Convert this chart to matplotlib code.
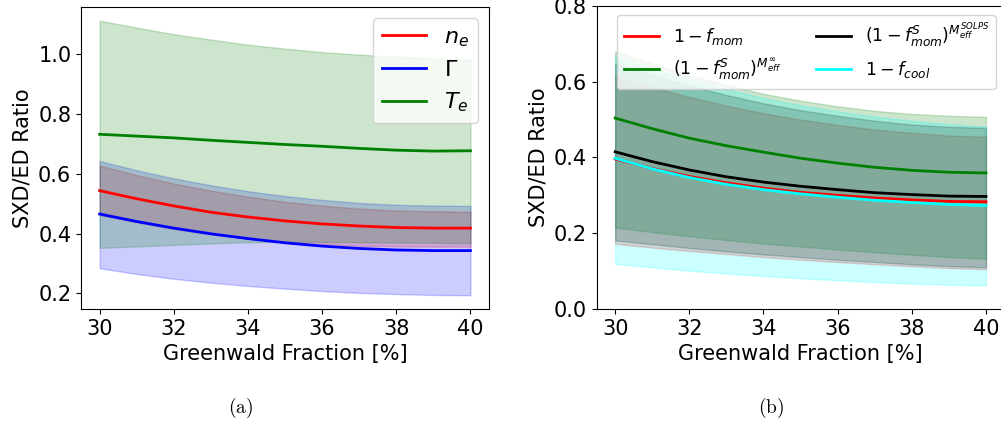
import numpy as np
import matplotlib.pyplot as plt

# Greenwald fraction [%]
fgw = [30, 31, 32, 33, 34, 35, 36, 37, 38, 39, 40]

# (a) SXD/ED ratio from n_e, Gamma, T_e
ne = [0.543, 0.516, 0.492, 0.471, 0.455, 0.442, 0.432, 0.425, 0.420, 0.418, 0.418]
ne_lo = [0.462, 0.437, 0.415, 0.397, 0.383, 0.372, 0.364, 0.359, 0.357, 0.356, 0.356]
ne_hi = [0.627, 0.595, 0.567, 0.543, 0.523, 0.506, 0.493, 0.483, 0.477, 0.474, 0.473]

gam = [0.465, 0.440, 0.418, 0.399, 0.383, 0.369, 0.358, 0.350, 0.345, 0.343, 0.343]
gam_lo = [0.284, 0.265, 0.249, 0.236, 0.225, 0.216, 0.208, 0.202, 0.198, 0.195, 0.194]
gam_hi = [0.642, 0.611, 0.584, 0.561, 0.541, 0.525, 0.512, 0.502, 0.496, 0.493, 0.492]

te = [0.731, 0.725, 0.719, 0.711, 0.704, 0.697, 0.691, 0.684, 0.678, 0.675, 0.676]
te_lo = [0.352, 0.357, 0.362, 0.367, 0.371, 0.372, 0.372, 0.371, 0.370, 0.369, 0.368]
te_hi = [1.110, 1.087, 1.065, 1.047, 1.030, 1.017, 1.005, 0.997, 0.990, 0.984, 0.980]

# (b) momentum / cooling loss estimates
fmom = [0.396, 0.371, 0.350, 0.333, 0.319, 0.308, 0.300, 0.293, 0.288, 0.284, 0.283]
fmom_lo = [0.172, 0.162, 0.153, 0.145, 0.137, 0.130, 0.124, 0.118, 0.113, 0.108, 0.105]
fmom_hi = [0.615, 0.586, 0.560, 0.537, 0.517, 0.500, 0.486, 0.474, 0.465, 0.458, 0.455]

minf = [0.504, 0.476, 0.451, 0.431, 0.414, 0.398, 0.385, 0.374, 0.366, 0.361, 0.359]
minf_lo = [0.215, 0.203, 0.192, 0.182, 0.173, 0.165, 0.157, 0.150, 0.143, 0.137, 0.133]
minf_hi = [0.680, 0.647, 0.618, 0.591, 0.568, 0.550, 0.535, 0.523, 0.515, 0.510, 0.507]

msol = [0.415, 0.389, 0.367, 0.349, 0.335, 0.324, 0.315, 0.307, 0.302, 0.298, 0.297]
msol_lo = [0.181, 0.171, 0.161, 0.152, 0.144, 0.137, 0.130, 0.124, 0.118, 0.113, 0.110]
msol_hi = [0.648, 0.618, 0.590, 0.565, 0.543, 0.525, 0.510, 0.497, 0.487, 0.481, 0.478]

fcool = [0.398, 0.370, 0.347, 0.329, 0.315, 0.304, 0.295, 0.287, 0.281, 0.276, 0.273]
fcool_lo = [0.119, 0.110, 0.101, 0.094, 0.087, 0.081, 0.076, 0.071, 0.067, 0.064, 0.062]
fcool_hi = [0.665, 0.635, 0.605, 0.580, 0.557, 0.538, 0.522, 0.508, 0.497, 0.488, 0.481]

fs = 15

fig = plt.figure(figsize=(10.01, 4.25), dpi=100)
ax1 = fig.add_axes([0.081, 0.273, 0.4075, 0.7106])
ax2 = fig.add_axes([0.596, 0.273, 0.4075, 0.7130])

# --- (a)
for y, lo, hi, c, lab in [(ne, ne_lo, ne_hi, 'red', r'$n_e$'),
                          (gam, gam_lo, gam_hi, 'blue', r'$\Gamma$'),
                          (te, te_lo, te_hi, 'green', r'$T_e$')]:
    ax1.plot(fgw, y, color=c, lw=2, label=lab)
    ax1.fill_between(fgw, lo, hi, color=c, alpha=0.2)

ax1.set_xticks([30, 32, 34, 36, 38, 40])
ax1.set_yticks([0.2, 0.4, 0.6, 0.8, 1.0])
ax1.set_xlabel('Greenwald Fraction [%]', fontsize=fs)
ax1.set_ylabel('SXD/ED Ratio', fontsize=fs)
ax1.tick_params(labelsize=fs)
ax1.legend(loc='upper right', fontsize=16)

# --- (b)
for y, lo, hi, c, lab in [(fmom, fmom_lo, fmom_hi, 'red', r'$1-f_{mom}$'),
                          (minf, minf_lo, minf_hi, 'green', r'$(1-f^S_{mom})^{M_{eff}^{\infty}}$'),
                          (msol, msol_lo, msol_hi, 'black', r'$(1-f^S_{mom})^{M_{eff}^{SOLPS}}$'),
                          (fcool, fcool_lo, fcool_hi, 'cyan', r'$1-f_{cool}$')]:
    ax2.plot(fgw, y, color=c, lw=2, label=lab)
    ax2.fill_between(fgw, lo, hi, color=c, alpha=0.2)

ax2.set_ylim(0, 0.8)
ax2.set_xticks([30, 32, 34, 36, 38, 40])
ax2.set_yticks([0.0, 0.2, 0.4, 0.6, 0.8])
ax2.set_xlabel('Greenwald Fraction [%]', fontsize=fs)
ax2.set_ylabel('SXD/ED Ratio', fontsize=fs)
ax2.tick_params(labelsize=fs)
ax2.legend(loc='upper right', ncol=2, fontsize=12.5)

fig.text(0.240, 0.04, r'$\mathrm{(a)}$', ha='center', va='center',
         fontsize=14, math_fontfamily='cm')
fig.text(0.770, 0.04, r'$\mathrm{(b)}$', ha='center', va='center',
         fontsize=14, math_fontfamily='cm')

fig.savefig('out.png', dpi=100)
